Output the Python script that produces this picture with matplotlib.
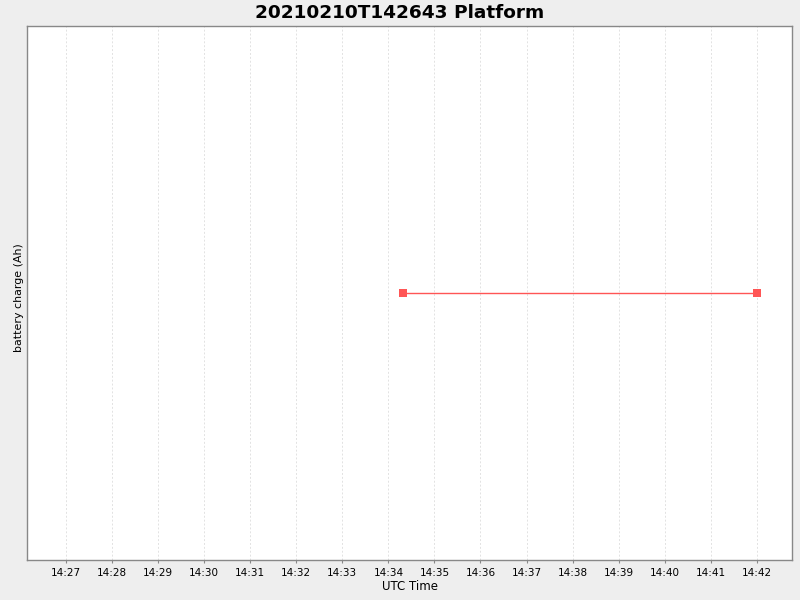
import matplotlib
matplotlib.use("Agg")
import matplotlib.pyplot as plt
from datetime import datetime

times = ["2021-02-10 14:34:19", "2021-02-10 14:42:00"]
charge = [0.0, 0.0]
tick_times = ["2021-02-10 14:%02d:00" % m for m in range(27, 43)]
tick_labels = ["14:%02d" % m for m in range(27, 43)]

x = [datetime.strptime(t, "%Y-%m-%d %H:%M:%S") for t in times]
xt = [datetime.strptime(t, "%Y-%m-%d %H:%M:%S") for t in tick_times]

fig = plt.figure(figsize=(8, 6), dpi=100, facecolor="#EEEEEE")
ax = fig.add_axes([27/800, 40/600, 765/800, 534/600])
ax.set_facecolor("white")
ax.plot(x, charge, color="#FF5555", linewidth=1.0, marker="s", markersize=5.5,
        markeredgewidth=0)
ax.set_xlim(datetime(2021, 2, 10, 14, 26, 9), datetime(2021, 2, 10, 14, 42, 46))
ax.set_ylim(-1, 1)
ax.set_xticks(xt)
ax.set_xticklabels(tick_labels, fontsize=7.5)
ax.set_yticks([])
ax.grid(axis="x", color="#E2E2E2", linestyle=(0, (2, 2)), linewidth=0.7)
ax.tick_params(axis="x", length=2, color="#888888", pad=4)
for s in ax.spines.values():
    s.set_color("#888888")
    s.set_linewidth(1.0)
ax.set_xlabel("UTC Time", fontsize=8.5, labelpad=1)
ax.set_ylabel("battery charge (Ah)", fontsize=7.9)
ax.yaxis.set_label_coords(-0.0045, 0.491)
fig.text(0.5, 0.979, "20210210T142643 Platform", ha="center", va="center",
         fontsize=13.3, fontweight="bold")
fig.savefig("out.png", dpi=100, facecolor=fig.get_facecolor())
